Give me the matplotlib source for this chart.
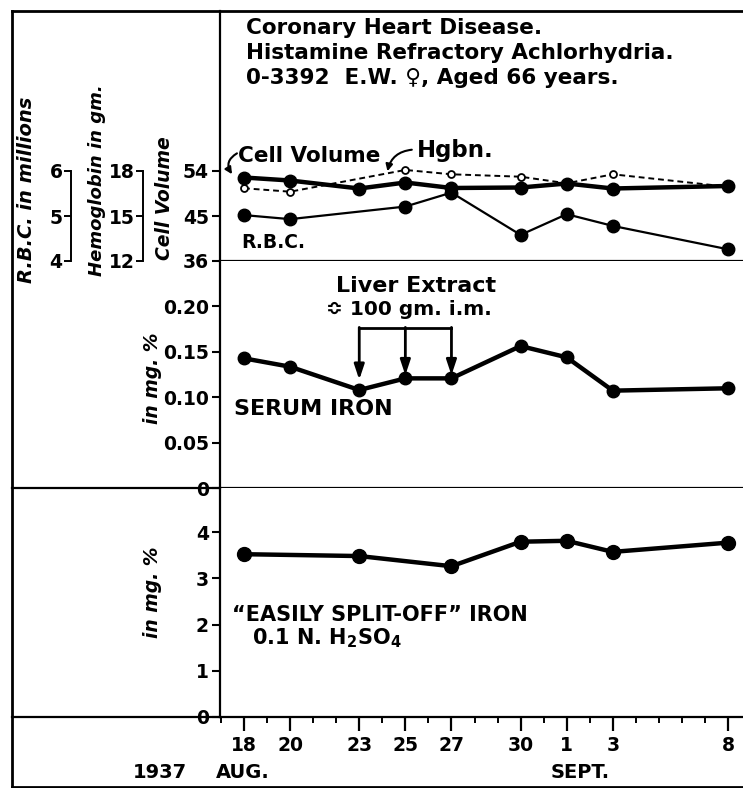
import matplotlib
matplotlib.use('Agg')
import matplotlib.pyplot as plt
from matplotlib.lines import Line2D
from matplotlib.ticker import MultipleLocator

W, H = 743, 788

# days counted from 18 Aug 1937
days = [0, 2, 5, 7, 9, 12, 14, 16, 21]
day_labels = ['18', '20', '23', '25', '27', '30', '1', '3', '8']

cell_volume = [52.7, 52.1, 50.5, 51.7, 50.6, 50.7, 51.5, 50.5, 51.0]
hgb_days = [0, 2, 7, 9, 12, 14, 16, 21]
hemoglobin = [16.85, 16.62, 18.07, 17.78, 17.62, 17.18, 17.78, 16.95]
rbc_days = [0, 2, 7, 9, 12, 14, 16, 21]
rbc = [5.02, 4.93, 5.21, 5.52, 4.58, 5.04, 4.78, 4.26]

serum_iron = [0.1425, 0.1333, 0.1077, 0.1205, 0.1205, 0.156, 0.1436, 0.107, 0.1096]
liver_days = [5, 7, 9]

split_days = [0, 5, 9, 12, 14, 16, 21]
split_iron = [3.52, 3.48, 3.26, 3.79, 3.81, 3.57, 3.77]

fig = plt.figure(figsize=(W / 100, H / 100), dpi=100)
plt.rcParams['font.family'] = 'DejaVu Sans'


def box(x0, y0, x1, y1):
    # pixel box -> figure fraction rect
    return [x0 / W, 1 - y1 / H, (x1 - x0) / W, (y1 - y0) / H]


def fline(xs, ys, lw=1.6):
    fig.add_artist(Line2D([x / W for x in xs], [1 - y / H for y in ys],
                          color='black', lw=lw, transform=fig.transFigure))


xmin, xmax = (220 - 244) / 23.05, (743 - 244) / 23.05
TICK_FS = 13.5

ax1 = fig.add_axes(box(220, 11, 743, 261))
ax2 = fig.add_axes(box(220, 261, 743, 488))
ax3 = fig.add_axes(box(220, 488, 743, 717))

for ax in (ax1, ax2, ax3):
    ax.set_xlim(xmin, xmax)
    ax.spines['top'].set_visible(False)
    ax.spines['right'].set_visible(False)
    for s in ('left', 'bottom'):
        ax.spines[s].set_linewidth(1.6)
    ax.tick_params(axis='y', length=6, width=1.5, pad=2)

ax1.set_xticks([])
ax2.set_xticks([])

# ---- top panel: cell volume / hemoglobin / RBC ----
cv_top = 36 + (261 - 11) / 5.0
ax1.set_ylim(36, cv_top)
ax1.set_yticks([36, 45, 54])
ax1.set_yticklabels(['36', '45', '54'], fontweight='bold', fontsize=TICK_FS)

ax_h = ax1.twinx()
ax_h.set_ylim(12, 12 + (cv_top - 36) / 3)
ax_r = ax1.twinx()
ax_r.set_ylim(4, 4 + (cv_top - 36) / 9)
for axx, pos, lo, hi, tks in ((ax_h, -0.147, 12, 18, [12, 15, 18]),
                              (ax_r, -0.285, 4, 6, [4, 5, 6])):
    for s in ('top', 'right', 'bottom'):
        axx.spines[s].set_visible(False)
    axx.spines['left'].set_visible(True)
    axx.spines['left'].set_position(('axes', pos))
    axx.spines['left'].set_bounds(lo, hi)
    axx.spines['left'].set_linewidth(1.4)
    axx.yaxis.set_ticks_position('left')
    axx.yaxis.set_label_position('left')
    axx.set_yticks(tks)
    axx.set_yticklabels([str(t) for t in tks], fontweight='bold', fontsize=TICK_FS)
    axx.tick_params(axis='y', length=5, width=1.4, pad=1)
    axx.set_zorder(ax1.get_zorder() - 1)
ax1.patch.set_visible(False)

ax1.plot(days, cell_volume, color='black', lw=3.2, marker='o', ms=9, zorder=4)
ax_h.plot(hgb_days, hemoglobin, color='black', lw=1.4, ls=(0, (3, 2)),
          marker='o', ms=5, mfc='white', mew=1.3, zorder=3)
ax_r.plot(rbc_days, rbc, color='black', lw=1.6, marker='o', ms=9, zorder=3)

ax1.text(-0.25, 57.0, 'Cell Volume', fontsize=15.5, fontweight='bold',
         va='center', ha='left')
ax1.annotate('', xy=(-0.45, 52.9), xytext=(-0.2, 57.8),
             arrowprops=dict(arrowstyle='-|>', color='black', lw=1.5,
                             connectionstyle='arc3,rad=0.6'))
ax1.text(7.5, 58.0, 'Hgbn.', fontsize=16.5, fontweight='bold',
         va='center', ha='left')
ax1.annotate('', xy=(6.2, 53.4), xytext=(7.4, 58.3),
             arrowprops=dict(arrowstyle='-|>', color='black', lw=1.5,
                             connectionstyle='arc3,rad=0.4'))
ax1.text(-0.1, 39.7, 'R.B.C.', fontsize=13.5, fontweight='bold',
         va='center', ha='left')

ax1.text(0.05, 0.97,
         'Coronary Heart Disease.\nHistamine Refractory Achlorhydria.\n0-3392  E.W. \u2640, Aged 66 years.',
         transform=ax1.transAxes, fontsize=15.5, fontweight='bold',
         va='top', ha='left', linespacing=1.3)

# ---- middle panel: serum iron ----
ax2.set_ylim(0, 0.2495)
ax2.set_yticks([0, 0.05, 0.10, 0.15, 0.20])
ax2.set_yticklabels(['0', '0.05', '0.10', '0.15', '0.20'], fontweight='bold', fontsize=TICK_FS)
ax2.plot(days, serum_iron, color='black', lw=3.2, marker='o', ms=9, zorder=4)

bracket = 0.1755
ax2.plot([liver_days[0], liver_days[-1]], [bracket, bracket], color='black', lw=2)
tips = [0.119, 0.124, 0.124]
for d, t in zip(liver_days, tips):
    ax2.annotate('', xy=(d, t), xytext=(d, bracket + 0.001),
                 arrowprops=dict(arrowstyle='-|>,head_length=0.9,head_width=0.3',
                                 color='black', lw=2, shrinkA=0, shrinkB=0))
ax2.text(7.45, 0.2225, 'Liver Extract', fontsize=16, fontweight='bold',
         ha='center', va='center')
ax2.text(7.15, 0.1967, '\u224e 100 gm. i.m.', fontsize=14.5, fontweight='bold',
         ha='center', va='center')
ax2.text(-0.45, 0.087, 'SERUM IRON', fontsize=16, fontweight='bold',
         ha='left', va='center')

# ---- bottom panel: easily split-off iron ----
ax3.set_ylim(0, (717 - 488) / 46.25)
ax3.set_yticks([0, 1, 2, 3, 4])
ax3.set_yticklabels(['0', '1', '2', '3', '4'], fontweight='bold', fontsize=TICK_FS)
ax3.plot(split_days, split_iron, color='black', lw=3.2, marker='o', ms=10, zorder=4)
ax3.text(-0.5, 2.2, '\u201cEASILY SPLIT-OFF\u201d IRON', fontsize=15, fontweight='bold',
         ha='left', va='center')
ax3.text(0.35, 1.7, '0.1 N. H$_\\mathbf{2}$SO$_\\mathbf{4}$', fontsize=15, fontweight='bold',
         ha='left', va='center')

ax3.set_xticks(days)
ax3.set_xticklabels(day_labels, fontsize=TICK_FS, fontweight='bold')
ax3.xaxis.set_minor_locator(MultipleLocator(1))
ax3.tick_params(axis='x', which='major', length=10, width=1.6, pad=4)
ax3.tick_params(axis='x', which='minor', length=4, width=1.4)

# ---- left labels ----
side = dict(rotation=90, fontstyle='italic', fontweight='bold', ha='center', va='center')
fig.text(27 / W, 1 - 190 / H, 'R.B.C. in millions', fontsize=14, **side)
fig.text(97 / W, 1 - 180 / H, 'Hemoglobin in gm.', fontsize=13, **side)
fig.text(165 / W, 1 - 198 / H, 'Cell Volume', fontsize=13.5, **side)
fig.text(152 / W, 1 - 378 / H, 'in mg. %', fontsize=13.5, **side)
fig.text(152 / W, 1 - 592 / H, 'in mg. %', fontsize=13.5, **side)

fig.text(160 / W, 1 - 773 / H, '1937', fontsize=14, fontweight='bold', ha='center', va='center')
fig.text(243 / W, 1 - 773 / H, 'AUG.', fontsize=14, fontweight='bold', ha='center', va='center')
fig.text(580 / W, 1 - 773 / H, 'SEPT.', fontsize=14, fontweight='bold', ha='center', va='center')

# ---- frame ----
fline([12, 743], [11, 11], lw=2)
fline([12, 12], [11, 787], lw=2)
fline([12, 743], [787, 787], lw=2)
fline([12, 220], [488, 488])
fline([12, 220], [717, 717])

fig.savefig('out.png', dpi=100)
